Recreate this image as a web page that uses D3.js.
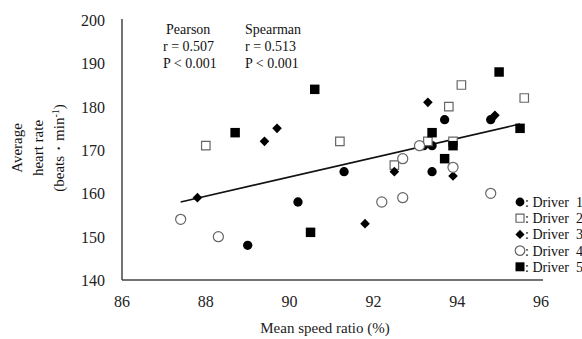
<!DOCTYPE html>
<html lang="en">
<head>
  <meta charset="UTF-8">
  <title>Heart rate vs speed ratio</title>
  <script src="https://d3js.org/d3.v7.min.js"></script>
  <style>
    body { margin: 0; background: #fff; }
    svg { display: block; font-family: "Liberation Serif", "Times New Roman", serif; }
    .tick-label { font-size: 16px; fill: #222; }
    .stat { font-size: 14px; fill: #111; }
    .legend-text { font-size: 14px; fill: #111; white-space: pre; }
  </style>
</head>
<body>
  <svg width="582" height="339"></svg>
  <script>
    const svg = d3.select("svg");

    const xTicks = [86, 88, 90, 92, 94, 96];
    const yTicks = [140, 150, 160, 170, 180, 190, 200];

    // [speed ratio %, heart rate] per driver
    const driver1 = [[89.0, 148], [90.2, 158], [91.3, 165], [93.2, 171], [93.4, 171], [93.4, 165], [93.7, 177], [94.8, 177]];
    const driver2 = [[88.0, 171], [91.2, 172], [92.5, 166.5], [93.3, 172], [93.9, 172], [93.8, 180], [94.1, 185], [95.6, 182]];
    const driver3 = [[87.8, 159], [89.4, 172], [89.7, 175], [91.8, 153], [92.5, 165], [93.9, 164], [93.3, 181], [94.9, 178]];
    const driver4 = [[87.4, 154], [88.3, 150], [92.2, 158], [92.7, 159], [92.7, 168], [93.1, 171], [93.9, 166], [94.8, 160]];
    const driver5 = [[88.7, 174], [90.6, 184], [90.5, 151], [93.4, 174], [93.9, 171], [93.7, 168], [95.0, 188], [95.5, 175]];

    const drivers = ["Driver\u00a0\u00a01", "Driver\u00a0\u00a02", "Driver\u00a0\u00a03", "Driver\u00a0\u00a04", "Driver\u00a0\u00a05"];
    const trend = [[87.4, 158], [95.5, 176]];
    const statLines = [["Pearson", "r = 0.507", "P < 0.001"], ["Spearman", "r = 0.513", "P < 0.001"]];

    const x = d3.scaleLinear().domain([86, 96]).range([122, 541]);
    const y = d3.scaleLinear().domain([140, 200]).range([280, 20]);

    const styles = [
      { shape: d3.symbolCircle, size: 68, fill: "#000", stroke: "none", rot: 0 },
      { shape: d3.symbolSquare, size: 72, fill: "#fff", stroke: "#666", rot: 0 },
      { shape: d3.symbolSquare, size: 46, fill: "#000", stroke: "none", rot: 45 },
      { shape: d3.symbolCircle, size: 80, fill: "#fff", stroke: "#666", rot: 0 },
      { shape: d3.symbolSquare, size: 90, fill: "#000", stroke: "none", rot: 0 }
    ];
    const series = [driver1, driver2, driver3, driver4, driver5];

    // axes
    const axisColor = "#444";
    svg.append("line")
      .attr("x1", x(86)).attr("x2", x(86))
      .attr("y1", y(200) - 1).attr("y2", y(140))
      .attr("stroke", axisColor).attr("stroke-width", 1.5);
    svg.append("line")
      .attr("x1", x(86)).attr("x2", x(96) + 2)
      .attr("y1", y(140)).attr("y2", y(140))
      .attr("stroke", axisColor).attr("stroke-width", 1.5);

    svg.selectAll(".ytick")
      .data(yTicks)
      .enter()
      .append("text")
      .attr("class", "tick-label")
      .attr("x", 105)
      .attr("y", d => y(d) + 6)
      .attr("text-anchor", "end")
      .text(d => d);

    svg.selectAll(".xtick")
      .data(xTicks)
      .enter()
      .append("text")
      .attr("class", "tick-label")
      .attr("x", d => x(d))
      .attr("y", 307)
      .attr("text-anchor", "middle")
      .text(d => d);

    svg.append("text")
      .attr("class", "tick-label")
      .attr("x", 325)
      .attr("y", 333)
      .attr("text-anchor", "middle")
      .style("font-size", "15px")
      .text("Mean speed ratio (%)");

    // y title, three rotated lines
    const yTitle = svg.append("text")
      .attr("transform", "translate(0,148) rotate(-90)")
      .attr("text-anchor", "middle")
      .style("font-size", "15px")
      .attr("fill", "#111");
    yTitle.append("tspan").attr("x", 0).attr("y", 22).text("Average");
    yTitle.append("tspan").attr("x", 0).attr("y", 43).text("heart rate");
    yTitle.append("tspan").attr("x", 0).attr("y", 64).text("(beats・min");
    yTitle.append("tspan").attr("dy", -5).style("font-size", "10px").text("-1");
    yTitle.append("tspan").attr("dy", 5).text(")");

    // correlation text
    statLines.forEach((lines, i) => {
      const tx = i === 0 ? 166 : 245;
      lines.forEach((s, j) => {
        svg.append("text")
          .attr("class", "stat")
          .attr("x", tx - (j > 0 && i === 0 ? 3 : 0))
          .attr("y", 34 + j * 17)
          .text(s);
      });
    });

    // trend line
    svg.append("path")
      .attr("d", d3.line().x(d => x(d[0])).y(d => y(d[1]))(trend))
      .attr("stroke", "#111")
      .attr("stroke-width", 1.6)
      .attr("fill", "none");

    // points
    series.forEach((data, i) => {
      const st = styles[i];
      svg.selectAll(".pt" + i)
        .data(data)
        .enter()
        .append("path")
        .attr("d", d3.symbol().type(st.shape).size(st.size))
        .attr("transform", d => `translate(${x(d[0])},${y(d[1])}) rotate(${st.rot})`)
        .attr("fill", st.fill)
        .attr("stroke", st.stroke)
        .attr("stroke-width", 1.2);
    });

    // legend
    drivers.forEach((name, i) => {
      const st = styles[i];
      const ly = 202 + i * 16.2;
      svg.append("path")
        .attr("d", d3.symbol().type(st.shape).size(st.size * 0.9))
        .attr("transform", `translate(520,${ly}) rotate(${st.rot})`)
        .attr("fill", st.fill)
        .attr("stroke", st.stroke)
        .attr("stroke-width", 1.2);
      svg.append("text")
        .attr("class", "legend-text")
        .attr("x", 525)
        .attr("y", ly + 5)
        .text(": " + name);
    });
  </script>
</body>
</html>
